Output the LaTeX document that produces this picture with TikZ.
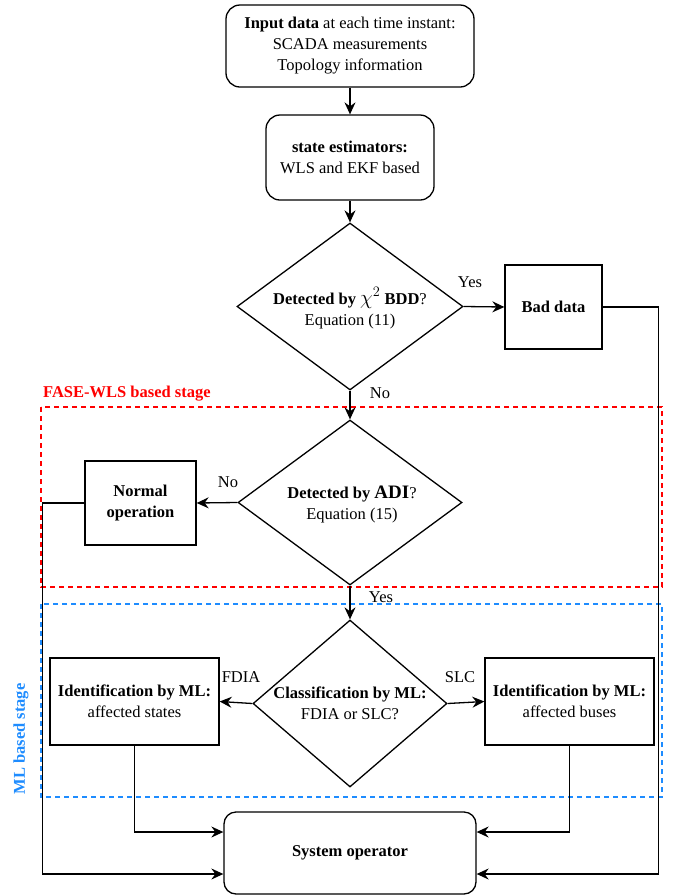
\documentclass[tikz,border=0pt]{standalone}
\usepackage{fontspec}
\setmainfont{Liberation Serif}
\usetikzlibrary{shapes.geometric,arrows.meta}
\definecolor{stagered}{RGB}{255,0,0}
\definecolor{stageblue}{RGB}{30,140,255}
\tikzset{
  base/.style={font=\fontsize{16.5}{21}\selectfont, align=center, inner sep=0pt},
  rbox/.style={base, draw, line width=1.3pt, rounded corners=14pt},
  sbox/.style={base, draw, line width=1.3pt},
  dia/.style={draw, line width=1.3pt, diamond, inner sep=0pt},
  txt/.style={base},
  lbl/.style={base},
  arr/.style={line width=1.3pt, -{Stealth[length=12pt,width=11pt,inset=4pt]}},
  stagebox/.style={line width=1.5pt, dash pattern=on 5pt off 4pt},
}
\newcommand{\bigchi}{{\fontsize{21}{21}\selectfont$\chi^2$}}
\newcommand{\bigadi}{{\fontsize{19}{21}\selectfont\textbf{ADI}}}
\begin{document}
\begin{tikzpicture}[x=1pt,y=-1pt]
\useasboundingbox (0,0) rectangle (675,895);

% stage boxes
\draw[stagebox, draw=stagered] (41,407) rectangle (662,587);
\draw[stagebox, draw=stageblue] (41,604) rectangle (662,797);
\node[base, anchor=west, text=stagered, font=\fontsize{16.5}{21}\selectfont\bfseries] (fase) at (43,394) {FASE-WLS based stage};
\node[base, rotate=90, text=stageblue, font=\fontsize{16.5}{21}\selectfont\bfseries] (mlst) at (21,739) {ML based stage};

% nodes
\node[rbox, minimum width=248pt, minimum height=82pt] (in) at (350,46)
  {\textbf{Input data} at each time instant:\\SCADA measurements\\Topology information};
\node[rbox, minimum width=168pt, minimum height=85pt] (se) at (350,157.5)
  {\textbf{state estimators:}\\WLS and EKF based};

\node[dia, minimum width=226pt, minimum height=167pt] (d1) at (350,306.5) {};
\node[txt] (d1t) at (350,308) {\textbf{Detected by} \bigchi\ \textbf{BDD}?\\Equation (11)};

\node[sbox, minimum width=97pt, minimum height=84pt] (bad) at (553.5,307) {\textbf{Bad data}};

\node[dia, minimum width=224pt, minimum height=165pt] (d2) at (350,502.5) {};
\node[txt] (d2t) at (352,504) {\textbf{Detected by} \bigadi?\\Equation (15)};

\node[sbox, minimum width=111pt, minimum height=84pt] (norm) at (140.5,503) {\textbf{Normal}\\\textbf{operation}};

\node[dia, minimum width=194pt, minimum height=167pt] (d3) at (350,703.5) {};
\node[txt] (d3t) at (350,703) {\textbf{Classification by ML:}\\FDIA or SLC?};

\node[sbox, minimum width=169pt, minimum height=87pt] (idl) at (134.5,701.5) {\textbf{Identification by ML:}\\affected states};
\node[sbox, minimum width=169pt, minimum height=87pt] (idr) at (569.5,701.5) {\textbf{Identification by ML:}\\affected buses};

\node[rbox, minimum width=252pt, minimum height=82pt, rounded corners=12pt] (sys) at (350,853) {\textbf{System operator}};

% connectors
\draw[arr] (in.south) -- (se.north);
\draw[arr] (se.south) -- (d1.north);
\draw[arr] (d1.east) -- (bad.west);
\draw[arr] (d1.south) -- (d2.north);
\draw[arr] (d2.west) -- (norm.east);
\draw[arr] (d2.south) -- (d3.north);
\draw[arr] (d3.west) -- (idl.east);
\draw[arr] (d3.east) -- (idr.west);
\draw[arr] (idl.south) |- ([yshift=21pt]sys.west);
\draw[arr] (idr.south) |- ([yshift=21pt]sys.east);
\draw[arr] (norm.west) -- ++(-42,0) |- ([yshift=-21pt]sys.west);
\draw[arr] (bad.east) -- ++(56,0) |- ([yshift=-21pt]sys.east);

% labels
\node[lbl] (yes1) at (470,282) {Yes};
\node[lbl] (no1) at (380,393) {No};
\node[lbl] (no2) at (228,482) {No};
\node[lbl] (yes2) at (381,597) {Yes};
\node[lbl] (fdia) at (241,677) {FDIA};
\node[lbl] (slc) at (460,677) {SLC};
\end{tikzpicture}
\end{document}
